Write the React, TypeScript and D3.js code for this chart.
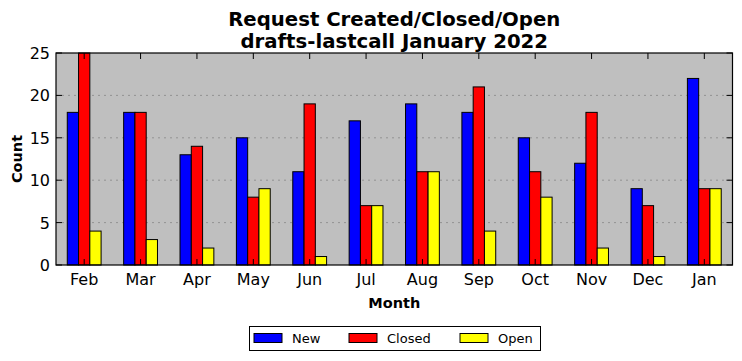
import React from "react";
import * as d3 from "d3";

const months = ["Feb", "Mar", "Apr", "May", "Jun", "Jul", "Aug", "Sep", "Oct", "Nov", "Dec", "Jan"];
const newVals = [18, 18, 13, 15, 11, 17, 19, 18, 15, 12, 9, 22];
const closedVals = [25, 18, 14, 8, 19, 7, 11, 21, 11, 18, 7, 9];
const openVals = [4, 3, 2, 9, 1, 7, 11, 4, 8, 2, 1, 9];
const seriesNames = ["New", "Closed", "Open"];
const seriesColors = ["#0000ff", "#ff0000", "#ffff00"];
const yTicks = [0, 5, 10, 15, 20, 25];

const W = 742, H = 361;
const left = 56, right = 732.5, top = 53, bottom = 265;

export default function App() {
  const series = [newVals, closedVals, openVals];
  const x = d3.scaleBand<string>().domain(months).range([left, right]).padding(0);
  const y = d3.scaleLinear().domain([0, 25]).range([bottom, top]);
  const bw = x.bandwidth() * 0.2;
  const font = "DejaVu Sans, sans-serif";
  return (
    <svg width={W} height={H} style={{ position: "absolute", left: 0, top: 0 }} fontFamily={font}>
      <rect x={0} y={0} width={W} height={H} fill="#fff" />
      <rect x={left} y={top} width={right - left} height={bottom - top} fill="#bfbfbf" />
      {yTicks.slice(1, -1).map((t) => (
        <line key={t} x1={left} x2={right} y1={y(t)} y2={y(t)} stroke="#888" strokeDasharray="2,4" strokeWidth={0.8} />
      ))}
      {months.map((m, i) => {
        const c = (x(m) as number) + x.bandwidth() / 2;
        return (
          <g key={m}>
            {series.map((s, j) => (
              <rect key={j} x={c - 1.5 * bw + j * bw} y={y(s[i])} width={bw} height={bottom - y(s[i])}
                fill={seriesColors[j]} stroke="#000" strokeWidth={1} />
            ))}
          </g>
        );
      })}
      {months.map((m) => {
        const c = (x(m) as number) + x.bandwidth() / 2;
        return (
          <g key={"t" + m}>
            <line x1={c} x2={c} y1={bottom} y2={bottom - 6} stroke="#000" />
            <line x1={c} x2={c} y1={top} y2={top + 6} stroke="#000" />
            <text x={c} y={285} textAnchor="middle" fontSize={16}>{m}</text>
          </g>
        );
      })}
      {yTicks.map((t) => (
        <g key={"y" + t}>
          <line x1={left} x2={left + 6} y1={y(t)} y2={y(t)} stroke="#000" />
          <line x1={right} x2={right - 6} y1={y(t)} y2={y(t)} stroke="#000" />
          <text x={50} y={y(t) + 6} textAnchor="end" fontSize={16}>{t}</text>
        </g>
      ))}
      <rect x={left} y={top} width={right - left} height={bottom - top} fill="none" stroke="#000" strokeWidth={1.2} />
      <text x={(left + right) / 2} y={26} textAnchor="middle" fontSize={19.7} fontWeight="bold">Request Created/Closed/Open</text>
      <text x={(left + right) / 2} y={48} textAnchor="middle" fontSize={19.7} fontWeight="bold">drafts-lastcall January 2022</text>
      <text x={(left + right) / 2} y={308} textAnchor="middle" fontSize={14.5} fontWeight="bold">Month</text>
      <text transform={`translate(22,${(top + bottom) / 2}) rotate(-90)`} textAnchor="middle" fontSize={14.5} fontWeight="bold">Count</text>
      <g>
        <rect x={249.5} y={326.5} width={291} height={24} fill="#fff" stroke="#000" strokeWidth={1} />
        {seriesNames.map((n, j) => {
          const xs = [254, 349, 460][j];
          return (
            <g key={n}>
              <rect x={xs} y={333.5} width={28} height={9} fill={seriesColors[j]} stroke="#000" />
              <text x={xs + 38} y={343} fontSize={13}>{n}</text>
            </g>
          );
        })}
      </g>
    </svg>
  );
}
